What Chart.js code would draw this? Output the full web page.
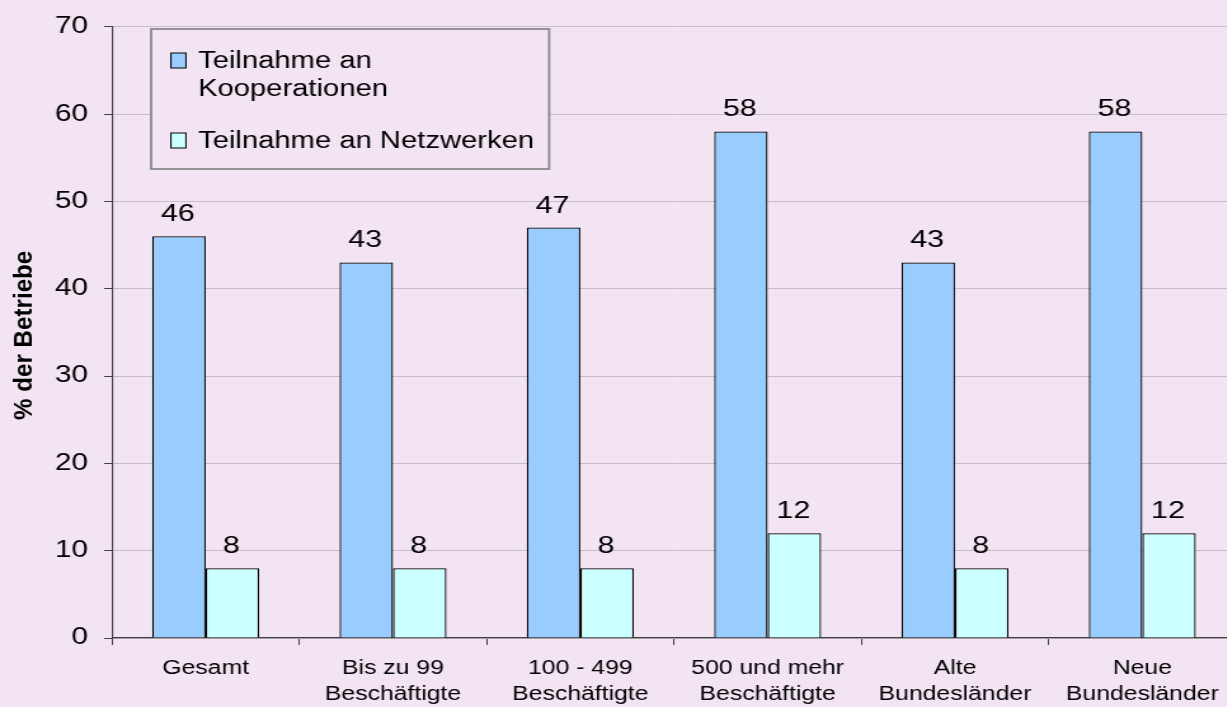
<!DOCTYPE html>
<html>
<head>
<meta charset="utf-8">
<script src="https://cdn.jsdelivr.net/npm/chart.js@4/dist/chart.umd.min.js"></script>
<style>
  html, body { margin: 0; padding: 0; background: #F2E4F3; overflow: hidden; }
  #wrap { width: 1227px; height: 707px; overflow: hidden; position: relative; }
  #box { width: 977px; height: 707px; position: absolute; left: 0; top: 0;
         transform: scaleX(1.27); transform-origin: 0 0; }
</style>
</head>
<body>
<div id="wrap"><div id="box"><canvas id="c"></canvas></div></div>
<script>
const categories = [
  ["Gesamt"],
  ["Bis zu 99", "Beschäftigte"],
  ["100 - 499", "Beschäftigte"],
  ["500 und mehr", "Beschäftigte"],
  ["Alte", "Bundesländer"],
  ["Neue", "Bundesländer"]
];
const seriesNames = [["Teilnahme an", "Kooperationen"], ["Teilnahme an Netzwerken"]];
const kooperationen = [46, 43, 47, 58, 43, 58];
const netzwerke = [8, 8, 8, 12, 8, 12];
const yTicks = [0, 10, 20, 30, 40, 50, 60, 70];
const yTitle = "% der Betriebe";

const FONT = "'Liberation Sans', Arial, sans-serif";
const BG = "#F2E4F3";

const bgPlugin = {
  id: 'bg',
  beforeDraw(chart) {
    const ctx = chart.ctx;
    ctx.save();
    ctx.fillStyle = BG;
    ctx.fillRect(0, 0, chart.width, chart.height);
    ctx.restore();
  }
};

const valueLabels = {
  id: 'valueLabels',
  afterDatasetsDraw(chart) {
    const ctx = chart.ctx;
    ctx.save();
    ctx.font = "24px " + FONT;
    ctx.fillStyle = "#000";
    ctx.textAlign = "center";
    ctx.textBaseline = "alphabetic";
    chart.data.datasets.forEach((ds, i) => {
      const meta = chart.getDatasetMeta(i);
      meta.data.forEach((bar, j) => {
        ctx.fillText(String(ds.data[j]), bar.x - 0.8, bar.y - 15);
      });
    });
    ctx.restore();
  }
};

const yTitlePlugin = {
  id: 'yTitlePlugin',
  afterDraw(chart) {
    const ctx = chart.ctx;
    const a = chart.chartArea;
    ctx.save();
    ctx.translate(19.5, (a.top + a.bottom) / 2 + 3);
    ctx.rotate(-Math.PI / 2);
    ctx.scale(1.24, 1);
    ctx.font = "bold 19.5px " + FONT;
    ctx.fillStyle = "#000";
    ctx.textAlign = "center";
    ctx.textBaseline = "middle";
    ctx.fillText(yTitle, 0, 0);
    ctx.restore();
  }
};

const boxLegend = {
  id: 'boxLegend',
  afterDraw(chart) {
    const ctx = chart.ctx;
    const x0 = 119, y0 = 29, w = 313.4, h = 140;
    ctx.save();
    ctx.fillStyle = BG;
    ctx.fillRect(x0, y0, w, h);
    ctx.strokeStyle = "#8a8a8a";
    ctx.lineWidth = 1.8;
    ctx.strokeRect(x0, y0, w, h);
    ctx.font = "23px " + FONT;
    ctx.textBaseline = "alphabetic";
    ctx.textAlign = "left";
    const rows = [[68.3, 95.7], [148.3]];
    chart.data.datasets.forEach((ds, i) => {
      const ys = rows[i];
      const top = ys[0] - 15.3;
      ctx.fillStyle = ds.backgroundColor;
      ctx.fillRect(134.6, top, 11.8, 15);
      ctx.strokeStyle = "#000";
      ctx.lineWidth = 1;
      ctx.strokeRect(134.6, top, 11.8, 15);
      ctx.fillStyle = "#000";
      seriesNames[i].forEach((t, k) => ctx.fillText(t, 155.9, ys[k]));
    });
    ctx.restore();
  }
};

new Chart(document.getElementById('c'), {
  type: 'bar',
  data: {
    labels: categories,
    datasets: [
      { label: seriesNames[0].join(' '), data: kooperationen, backgroundColor: '#99CCFF', borderColor: '#000', borderWidth: 1.3, borderSkipped: 'bottom' },
      { label: seriesNames[1].join(' '), data: netzwerke, backgroundColor: '#CCFFFF', borderColor: '#000', borderWidth: 1.3, borderSkipped: 'bottom' }
    ]
  },
  options: {
    responsive: true,
    maintainAspectRatio: false,
    animation: false,
    layout: { padding: { left: 0, right: 3.8, top: 23, bottom: 0 } },
    datasets: { bar: { barPercentage: 1.0, categoryPercentage: 0.571 } },
    plugins: { legend: { display: false }, tooltip: { enabled: false } },
    scales: {
      x: {
        grid: { drawOnChartArea: false, offset: true, tickLength: 7, color: '#404040', tickColor: '#404040' },
        border: { color: '#404040', width: 1.3 },
        ticks: { font: { family: FONT, size: 19.5, lineHeight: 1.36 }, color: '#000', padding: 10, maxRotation: 0, autoSkip: false },
        afterFit(s) { s.height = 69; }
      },
      y: {
        min: 0, max: 70,
        afterBuildTicks(s) { s.ticks = yTicks.map(v => ({ value: v })); },
        grid: { color: '#C8BCC8', tickLength: 6.3, tickColor: '#404040', lineWidth: 1 },
        border: { color: '#404040', width: 1.1 },
        ticks: { font: { family: FONT, size: 23.5 }, color: '#000', padding: 12.6 },
        afterFit(s) { s.width = 88.2; }
      }
    }
  },
  plugins: [bgPlugin, valueLabels, boxLegend, yTitlePlugin]
});
</script>
</body>
</html>
